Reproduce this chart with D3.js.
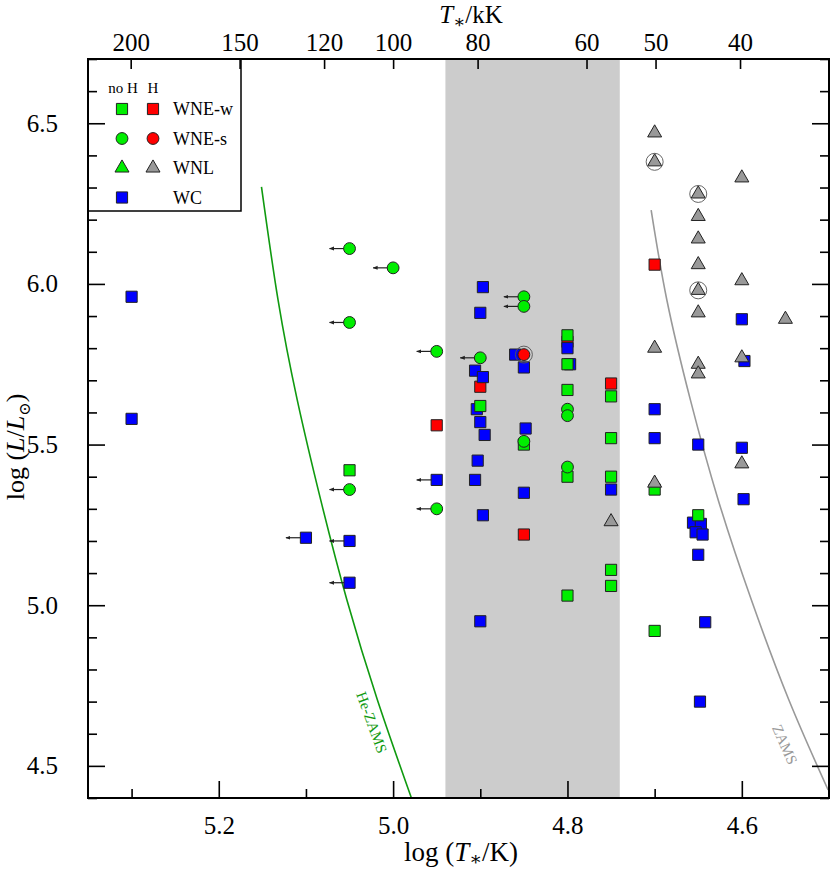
<!DOCTYPE html>
<html><head><meta charset="utf-8">
<script src="https://cdn.jsdelivr.net/npm/d3@7"></script>
<style>
body{margin:0;background:#fff;}
svg text{font-family:"Liberation Serif","DejaVu Serif",serif !important;}
</style></head>
<body>
<svg id="c" width="830" height="872"></svg>
<script>
// ---- data (log T*, log L, lowerLimitArrow) ----
const wcPts = [[5.30,5.96],[5.30,5.58],[4.95,5.39,1],[5.10,5.21,1],[5.05,5.20,1],[5.05,5.07,1],
 [4.897,5.99],[4.90,5.91],[4.86,5.78],[4.85,5.74],[4.80,5.80],[4.797,5.75],[4.906,5.73],[4.897,5.71],
 [4.904,5.61],[4.90,5.57],[4.895,5.53],[4.848,5.55],[4.903,5.45],[4.906,5.39],[4.75,5.36],[4.85,5.35],
 [4.897,5.28],[4.90,4.95],[4.70,5.61],[4.70,5.52],[4.65,5.50],[4.60,5.49],[4.598,5.33],[4.656,5.257],
 [4.647,5.253],[4.653,5.227],[4.645,5.22],[4.65,5.157],[4.642,4.947],[4.648,4.70],[4.60,5.89],[4.597,5.76]];
const wneWnoH = [[5.05,5.42],[4.80,5.84],[4.80,5.75],[4.90,5.62],[4.80,5.67],[4.75,5.65],[4.85,5.50],
 [4.75,5.52],[4.80,5.40],[4.75,5.40],[4.75,5.11],[4.75,5.06],[4.80,5.03],[4.70,5.36],[4.65,5.28],[4.70,4.92]];
const wneWH = [[4.95,5.56],[4.80,5.82],[4.90,5.68],[4.75,5.69],[4.85,5.22],[4.70,6.06]];
const wneSnoH = [[5.05,6.11,1],[5.00,6.05,1],[5.05,5.88,1],[4.95,5.79,1],[5.05,5.36,1],[4.95,5.30,1],
 [4.85,5.96,1],[4.85,5.93,1],[4.90,5.77,1],[4.80,5.61],[4.80,5.59],[4.85,5.51],[4.80,5.43]];
const wneSH = [[4.85,5.78]];
const wnlPts = [[4.70,6.47],[4.70,6.38],[4.60,6.33],[4.65,6.28],[4.65,6.21],[4.65,6.14],[4.65,6.06],
 [4.60,6.01],[4.65,5.98],[4.65,5.91],[4.55,5.89],[4.70,5.80],[4.60,5.77],[4.65,5.75],[4.65,5.72],
 [4.60,5.44],[4.70,5.38],[4.75,5.26]];
const ringed = [[4.85,5.78],[4.70,6.38],[4.65,6.28],[4.65,5.98]];
const heZams = [[5.151,6.302],[5.132,5.950],[5.110,5.639],[5.083,5.327],[5.053,5.016],[5.018,4.705],[4.979,4.40]];
const zams = [[4.704,6.230],[4.686,5.950],[4.659,5.639],[4.627,5.327],[4.589,5.016],[4.546,4.705],[4.501,4.425]];
const band = [4.94,4.74];
const bottomMajor = [5.2,5.0,4.8,4.6];
const bottomMinor = [5.3,5.1,4.9,4.7,4.5];
const leftMajor = [4.5,5.0,5.5,6.0,6.5];
const leftMinor = [4.4,4.6,4.7,4.8,4.9,5.1,5.2,5.3,5.4,5.6,5.7,5.8,5.9,6.1,6.2,6.3,6.4,6.6,6.7];
const topTicksKK = [200,150,120,100,80,60,50,40];

// ---- scales ----
const svg = d3.select("#c");
const x = d3.scaleLinear().domain([5.35,4.5]).range([88,829]);
const y = d3.scaleLinear().domain([4.4,6.7]).range([798,59]);
const colGreen="#00ee00", colRed="#ff0000", colBlue="#0000ff", colGray="#999999", stroke="#222";

const defs = svg.append("defs");
defs.append("clipPath").attr("id","clip")
  .append("rect").attr("x",88).attr("y",59).attr("width",741).attr("height",739);
defs.append("marker").attr("id","ah").attr("viewBox","0 0 10 10")
  .attr("refX",9).attr("refY",5).attr("markerWidth",5).attr("markerHeight",5).attr("orient","auto")
  .attr("markerUnits","userSpaceOnUse")
  .append("path").attr("d","M0,1 L10,5 L0,9 Z").attr("fill","#222");

const plot = svg.append("g").attr("clip-path","url(#clip)");
plot.append("rect").attr("x",x(band[0])).attr("y",59).attr("width",x(band[1])-x(band[0])).attr("height",739).attr("fill","#cccccc");

const line = d3.line().x(d=>x(d[0])).y(d=>y(d[1])).curve(d3.curveNatural);
plot.append("path").datum(heZams).attr("d",line).attr("fill","none").attr("stroke","#109a10").attr("stroke-width",1.6);
plot.append("path").datum(zams).attr("d",line).attr("fill","none").attr("stroke","#999").attr("stroke-width",1.6);

svg.append("text").attr("transform",`translate(${x(5.03)},${y(4.63)}) rotate(70)`).attr("text-anchor","middle")
  .attr("font-size",15).attr("fill","#109a10").text("He-ZAMS");
svg.append("text").attr("transform",`translate(${x(4.556)},${y(4.56)}) rotate(66)`).attr("text-anchor","middle")
  .attr("font-size",15).attr("fill","#999").text("ZAMS");

// arrows (lower limits on T*)
const allPts = [].concat(wcPts,wneSnoH);
plot.selectAll(".arr").data(allPts.filter(d=>d[2])).join("line")
  .attr("x1",d=>x(d[0])).attr("y1",d=>y(d[1])).attr("x2",d=>x(d[0])-20).attr("y2",d=>y(d[1]))
  .attr("stroke","#222").attr("stroke-width",1.2).attr("marker-end","url(#ah)");

const sq = d3.symbol(d3.symbolSquare,125), ci = d3.symbol(d3.symbolCircle,110), tr = d3.symbol(d3.symbolTriangle,85);
function draw(data,sym,fill){
  plot.append("g").selectAll("path").data(data).join("path")
    .attr("transform",d=>`translate(${x(d[0])},${y(d[1])})`).attr("d",sym)
    .attr("fill",fill).attr("stroke",stroke).attr("stroke-width",1);
}
draw(wneWH,sq,colRed);
draw(wcPts,sq,colBlue);
draw(wneWnoH,sq,colGreen);
draw(wneSnoH,ci,colGreen);
draw(wneSH,ci,colRed);
draw(wnlPts,tr,colGray);
plot.append("g").selectAll("circle").data(ringed).join("circle")
  .attr("cx",d=>x(d[0])).attr("cy",d=>y(d[1])).attr("r",8.5).attr("fill","none").attr("stroke","#555").attr("stroke-width",0.9);

// legend
const lg = svg.append("g");
lg.append("rect").attr("x",88).attr("y",59).attr("width",153).attr("height",152).attr("fill","#fff").attr("stroke","#000").attr("stroke-width",1.5);
lg.append("text").attr("x",123).attr("y",93).attr("text-anchor","middle").attr("font-size",15).text("no H");
lg.append("text").attr("x",153).attr("y",93).attr("text-anchor","middle").attr("font-size",15).text("H");
const legRows = [["WNE-w",sq,colGreen,colRed],["WNE-s",ci,colGreen,colRed],["WNL",tr,colGreen,colGray],["WC",sq,colBlue,null]];
legRows.forEach((r,i)=>{
  const yy = 109 + i*29.5;
  lg.append("path").attr("transform",`translate(122,${yy})`).attr("d",r[1]).attr("fill",r[2]).attr("stroke",stroke);
  if(r[3]) lg.append("path").attr("transform",`translate(153,${yy})`).attr("d",r[1]).attr("fill",r[3]).attr("stroke",stroke);
  lg.append("text").attr("x",173).attr("y",yy+6).attr("font-size",18).text(r[0]);
});

// axes
const fmt = d3.format(".1f");
function ax(g,a){ g.call(a); g.attr("font-family",null); g.select(".domain").remove(); g.selectAll("line").attr("stroke","#000").attr("stroke-width",1.6); g.selectAll("text").attr("fill","#000"); }
ax(svg.append("g").attr("transform","translate(0,798)"), d3.axisBottom(x).tickValues(bottomMajor).tickSize(-17).tickPadding(18).tickFormat(fmt));
ax(svg.append("g").attr("transform","translate(0,798)"), d3.axisBottom(x).tickValues(bottomMinor).tickSize(-9).tickFormat(""));
ax(svg.append("g").attr("transform","translate(0,59)"), d3.axisTop(x).tickValues(topTicksKK.map(t=>Math.log10(t*1000))).tickSize(-10).tickPadding(8).tickFormat((d,i)=>topTicksKK[i]));
ax(svg.append("g").attr("transform","translate(88,0)"), d3.axisLeft(y).tickValues(leftMajor).tickSize(-17).tickPadding(30).tickFormat(fmt));
ax(svg.append("g").attr("transform","translate(88,0)"), d3.axisLeft(y).tickValues(leftMinor).tickSize(-9).tickFormat(""));
ax(svg.append("g").attr("transform","translate(829,0)"), d3.axisRight(y).tickValues(leftMajor).tickSize(-17).tickFormat(""));
ax(svg.append("g").attr("transform","translate(829,0)"), d3.axisRight(y).tickValues(leftMinor).tickSize(-9).tickFormat(""));
svg.selectAll(".tick text").attr("font-size",25);
svg.append("rect").attr("x",88).attr("y",59).attr("width",741).attr("height",739).attr("fill","none").attr("stroke","#000").attr("stroke-width",2);

// titles
const t1 = svg.append("text").attr("x",471).attr("y",23).attr("text-anchor","middle").attr("font-size",25);
t1.append("tspan").attr("font-style","italic").text("T");
t1.append("tspan").attr("dy",5).attr("font-size",18).text("∗");
t1.append("tspan").attr("dy",-5).text("/kK");
const t2 = svg.append("text").attr("x",461).attr("y",861).attr("text-anchor","middle").attr("font-size",27);
t2.append("tspan").text("log (");
t2.append("tspan").attr("font-style","italic").text("T");
t2.append("tspan").attr("dy",4).attr("font-size",19).text("∗");
t2.append("tspan").attr("dy",-4).text("/K)");
const t3 = svg.append("text").attr("transform","translate(24,447) rotate(-90)").attr("text-anchor","middle").attr("font-size",26);
t3.append("tspan").text("log (");
t3.append("tspan").attr("font-style","italic").text("L");
t3.append("tspan").text("/");
t3.append("tspan").attr("font-style","italic").text("L");
t3.append("tspan").attr("dy",6).attr("font-size",16).text("⊙");
t3.append("tspan").attr("dy",-6).text(")");
</script>
</body></html>
